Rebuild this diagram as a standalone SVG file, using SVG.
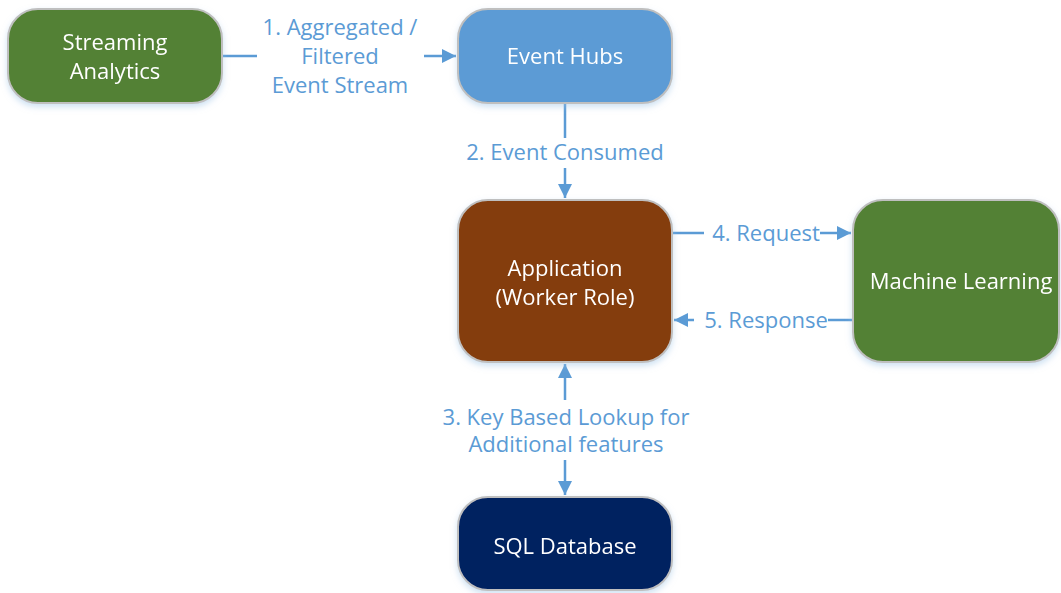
<svg xmlns="http://www.w3.org/2000/svg" width="1061" height="593" viewBox="0 0 1061 593">
<style>
.node{stroke:#BFBFBF;stroke-width:2}
.nt{font-family:"Open Sans","Noto Sans",sans-serif;font-size:22px;fill:#FFFFFF;text-anchor:middle}
.lt{font-family:"Open Sans","Noto Sans",sans-serif;font-size:22px;fill:#5B9BD5;text-anchor:middle}
.edge{stroke:#5B9BD5;stroke-width:2.5;fill:none}
</style>
<defs>
<marker id="ah" viewBox="0 0 14 14" refX="14" refY="7" markerWidth="14" markerHeight="14" markerUnits="userSpaceOnUse" orient="auto-start-reverse">
<path d="M0,0 L14,7 L0,14 Z" fill="#5B9BD5"/>
</marker>
<filter id="sh" x="-10%" y="-10%" width="120%" height="130%">
<feDropShadow dx="0" dy="3" stdDeviation="3" flood-color="#9DC3E6" flood-opacity="0.5"/>
</filter>
</defs>
<g id="connectors">
<path class="edge" d="M222,56 H257"/>
<path class="edge" d="M424,56 H456" marker-end="url(#ah)"/>
<text class="lt" x="340" y="35">1. Aggregated /</text>
<text class="lt" x="340" y="64">Filtered</text>
<text class="lt" x="340" y="93">Event Stream</text>
<path class="edge" d="M565,103 V138"/>
<path class="edge" d="M565,168 V198" marker-end="url(#ah)"/>
<text class="lt" x="565" y="160">2. Event Consumed</text>
<path class="edge" d="M672,233 H704"/>
<path class="edge" d="M820,233 H851" marker-end="url(#ah)"/>
<text class="lt" x="766" y="241">4. Request</text>
<path class="edge" d="M853,320 H828"/>
<path class="edge" d="M694,320 H674" marker-end="url(#ah)"/>
<text class="lt" x="766" y="328">5. Response</text>
<path class="edge" d="M565,400 V364" marker-end="url(#ah)"/>
<path class="edge" d="M565,460 V495" marker-end="url(#ah)"/>
<text class="lt" x="566" y="425">3. Key Based Lookup for</text>
<text class="lt" x="566" y="452">Additional features</text>
</g>
<g id="streaming-analytics" filter="url(#sh)">
<rect class="node" x="8" y="9" width="214" height="94" rx="30" fill="#538135"/>
<text class="nt" x="115" y="50">Streaming</text>
<text class="nt" x="115" y="79">Analytics</text>
</g>
<g id="event-hubs" filter="url(#sh)">
<rect class="node" x="458" y="9" width="214" height="94" rx="30" fill="#5B9BD5"/>
<text class="nt" x="565" y="64">Event Hubs</text>
</g>
<g id="application" filter="url(#sh)">
<rect class="node" x="458" y="200" width="214" height="162" rx="30" fill="#843C0C"/>
<text class="nt" x="565" y="276">Application</text>
<text class="nt" x="565" y="305">(Worker Role)</text>
</g>
<g id="machine-learning" filter="url(#sh)">
<rect class="node" x="853" y="200" width="206" height="162" rx="30" fill="#538135"/>
<text class="nt" x="961" y="289">Machine Learning</text>
</g>
<g id="sql-database" filter="url(#sh)">
<rect class="node" x="458" y="497" width="214" height="93" rx="30" fill="#002060"/>
<text class="nt" x="565" y="554">SQL Database</text>
</g>
</svg>
